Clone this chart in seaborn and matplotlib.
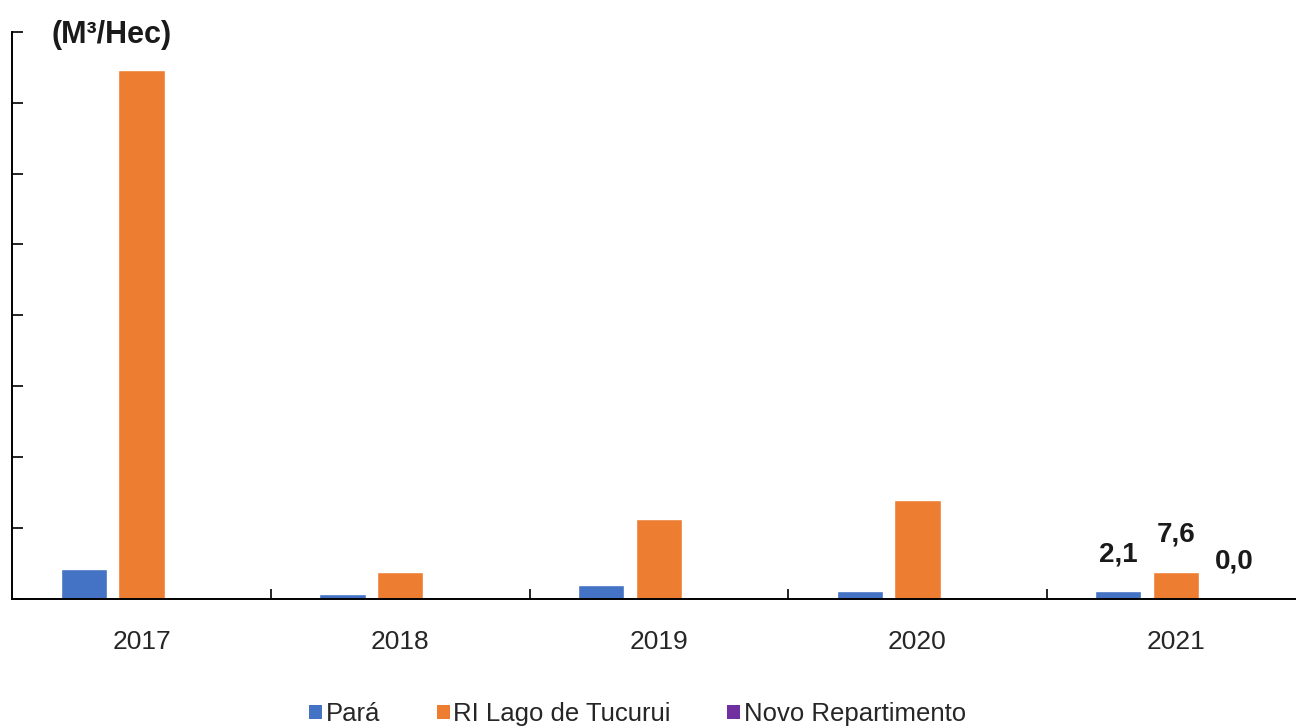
import matplotlib
matplotlib.use("Agg")
import matplotlib.pyplot as plt
import seaborn as sns
import pandas as pd
from matplotlib.patches import Patch
from matplotlib.ticker import MultipleLocator, FixedLocator

years = ["2017", "2018", "2019", "2020", "2021"]
series = ["Pará", "RI Lago de Tucurui", "Novo Repartimento"]
para = [8.3, 1.2, 3.8, 2.2, 2.1]
tucurui = [149.3, 7.6, 22.4, 27.8, 7.6]
novo = [0.0, 0.0, 0.0, 0.0, 0.0]
colors = ["#4472C4", "#ED7D31", "#7030A0"]
unit_label = "(M³/Hec)"

rows = []
for name, vals in zip(series, [para, tucurui, novo]):
    for y, v in zip(years, vals):
        rows.append({"year": y, "series": name, "value": v})
df = pd.DataFrame(rows)

sns.set_style("white")
plt.rcParams["font.family"] = ["Liberation Sans Narrow", "Liberation Sans", "DejaVu Sans"]

fig = plt.figure(figsize=(12.96, 7.27), dpi=100)
ax = fig.add_axes([12.3 / 1296, 1 - 598.5 / 727, 1293 / 1296, 566.5 / 727])

sns.barplot(data=df, x="year", y="value", hue="series", order=years,
            hue_order=series, palette=colors, width=0.67, gap=0.2,
            saturation=1, legend=False, ax=ax)

ax.set_xlim(-0.5, len(years) - 0.5)
ax.set_ylim(0, 160)
ax.yaxis.set_major_locator(MultipleLocator(20))
ax.set_yticklabels([])
ax.tick_params(axis="y", direction="in", length=8, width=1.2, color="black", left=True)
ax.xaxis.set_minor_locator(FixedLocator([i + 0.5 for i in range(len(years) - 1)]))
ax.tick_params(axis="x", which="major", length=0, pad=23, labelsize=19, labelcolor="#262626")
ax.tick_params(axis="x", which="minor", direction="in", length=7.5, width=1.2, color="black", bottom=True)
ax.set_xlabel("")
ax.set_ylabel("")
for s in ["top", "right"]:
    ax.spines[s].set_visible(False)
for s in ["left", "bottom"]:
    ax.spines[s].set_color("black")
    ax.spines[s].set_linewidth(1.4)

# data labels for the last year
last = len(years) - 1
for cont in ax.containers:
    bar = cont[last]
    h = bar.get_height()
    ax.annotate(f"{h:.1f}".replace(".", ","),
                (bar.get_x() + bar.get_width() / 2, h),
                xytext=(0, 17), textcoords="offset points",
                ha="center", va="bottom", fontsize=20, fontweight="bold", color="#1a1a1a")

fig.text(112 / 1296, 1 - 35 / 727, unit_label, ha="center", va="center",
         fontsize=22, fontweight="bold", color="#1a1a1a")

handles = [Patch(facecolor=c, edgecolor="none", label=n) for c, n in zip(colors, series)]
fig.legend(handles=handles, loc="center", bbox_to_anchor=(0.492, 1 - 714 / 727), ncol=3,
           frameon=False, fontsize=18.5, handlelength=0.5, handleheight=0.5,
           handletextpad=0.15, columnspacing=2.2, labelcolor="#262626")

fig.savefig("out.png", dpi=100)
